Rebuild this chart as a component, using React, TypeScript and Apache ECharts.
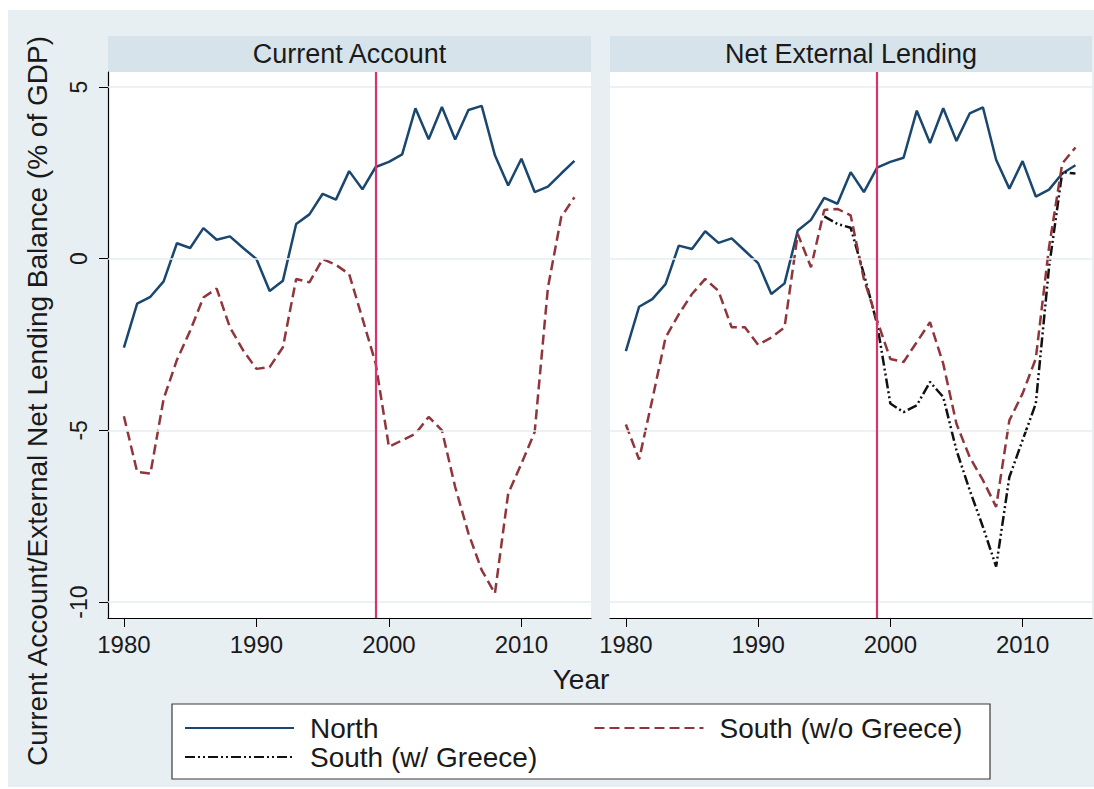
import React, { useEffect, useRef } from "react";
import * as echarts from "echarts";

const years = [
  1980, 1981, 1982, 1983, 1984, 1985, 1986, 1987, 1988, 1989,
  1990, 1991, 1992, 1993, 1994, 1995, 1996, 1997, 1998, 1999,
  2000, 2001, 2002, 2003, 2004, 2005, 2006, 2007, 2008, 2009,
  2010, 2011, 2012, 2013, 2014,
];

// Current Account panel
const caNorth = [
  -2.59, -1.31, -1.11, -0.66, 0.45, 0.31, 0.89, 0.55, 0.65, 0.31,
  -0.01, -0.94, -0.64, 1.01, 1.29, 1.89, 1.72, 2.55, 2.02, 2.67,
  2.82, 3.04, 4.38, 3.48, 4.42, 3.47, 4.33, 4.45, 3.01, 2.13,
  2.91, 1.94, 2.1, 2.48, 2.85,
];
const caSouth = [
  -4.59, -6.21, -6.26, -4.08, -2.95, -2.1, -1.13, -0.87, -2.0, -2.67,
  -3.21, -3.16, -2.58, -0.59, -0.69, -0.01, -0.18, -0.45, -1.74, -3.05,
  -5.48, -5.29, -5.1, -4.61, -5.0, -6.65, -8.0, -9.07, -9.75, -6.84,
  -5.97, -5.05, -0.84, 1.21, 1.79,
];

// Net External Lending panel
const nelNorth = [
  -2.69, -1.4, -1.18, -0.74, 0.38, 0.28, 0.8, 0.46, 0.59, 0.23,
  -0.13, -1.03, -0.72, 0.82, 1.13, 1.77, 1.6, 2.52, 1.94, 2.65,
  2.82, 2.94, 4.31, 3.37, 4.38, 3.43, 4.23, 4.41, 2.88, 2.04,
  2.84, 1.81, 2.01, 2.48, 2.72,
];
const nelSouth = [
  -4.83, -5.85, -4.1, -2.3, -1.62, -1.03, -0.59, -0.94, -2.0, -2.0,
  -2.51, -2.3, -2.0, 0.72, -0.25, 1.42, 1.45, 1.26, -0.6, -1.8,
  -2.92, -3.01, -2.43, -1.85, -3.06, -4.81, -5.78, -6.45, -7.23, -4.71,
  -3.93, -2.91, 0.33, 2.77, 3.24,
];
const nelSouthGreece = [
  null, null, null, null, null, null, null, null, null, null,
  null, null, null, null, null, 1.23, 1.01, 0.9, -0.45, -1.9,
  -4.22, -4.47, -4.27, -3.59, -4.03, -5.58, -6.74, -7.81, -8.97, -6.36,
  -5.29, -4.22, -0.25, 2.52, 2.48,
];

const panelTitles = ["Current Account", "Net External Lending"];
const xTickValues = [1980, 1990, 2000, 2010];
const yTickValues = [-10, -5, 0, 5];
const gridLineValues = [5, 0, -5, -10];
const euroYear = 1999;
const seriesNames = ["North", "South (w/o Greece)", "South (w/ Greece)"];
const yTitle = "Current Account/External Net Lending Balance (% of GDP)";
const xTitle = "Year";

const FONT = '"Liberation Sans", Arial, Helvetica, sans-serif';
const TXT = "#1a1a1a";
const BG = "#e8eff2";
const STRIP = "#d6e3ea";
const GRIDLINE = "#e6eef1";
const BLUE = "#1a476f";
const MAROON = "#90353b";
const PINK = "#d8336b";

const toPairs = (vals: (number | null)[]) =>
  years
    .map((y, i) => [y, vals[i]] as [number, number | null])
    .filter((p) => p[1] !== null);

const X_MIN = 1978.8;
const X_MAX = 2015.25;
const Y_MIN = -10.466;
const Y_MAX = 5.437;

const markLines = {
  silent: true,
  symbol: ["none", "none"],
  label: { show: false },
  emphasis: { disabled: true },
  lineStyle: { color: GRIDLINE, width: 1.5, type: "solid" },
  data: [
    ...gridLineValues.map((v) => ({ yAxis: v })),
    { xAxis: euroYear, lineStyle: { color: PINK, width: 2.2, type: "solid" } },
  ],
};

export default function App() {
  const ref = useRef<HTMLDivElement>(null);
  useEffect(() => {
    if (!ref.current) return;
    const chart = echarts.init(ref.current, undefined, { renderer: "svg" });

    const xAxisBase = (gridIndex: number) => ({
      type: "value",
      gridIndex,
      min: X_MIN,
      max: X_MAX,
      axisLine: { show: true, onZero: false, lineStyle: { color: "#000", width: 1.2 } },
      axisTick: {
        show: true,
        length: 9,
        customValues: xTickValues,
        lineStyle: { color: "#000", width: 1 },
      },
      axisLabel: {
        customValues: xTickValues,
        formatter: (v: number) => String(v),
        fontSize: 24,
        color: TXT,
        fontFamily: FONT,
        margin: 14,
      },
      splitLine: { show: false },
    });

    const legendBase = {
      orient: "horizontal",
      itemWidth: 109,
      itemHeight: 14,
      padding: 0,
      selectedMode: false,
      itemStyle: { opacity: 0 },
      textStyle: { fontSize: 28, color: TXT, fontFamily: FONT, padding: [0, 0, 0, 11] },
    };

    const option: any = {
      animation: false,
      backgroundColor: "#ffffff",
      textStyle: { fontFamily: FONT },
      grid: [
        { left: 108, top: 72, width: 483, height: 546, show: true, backgroundColor: "#ffffff", borderWidth: 0 },
        { left: 610, top: 72, width: 482, height: 546, show: true, backgroundColor: "#ffffff", borderWidth: 0 },
      ],
      xAxis: [xAxisBase(0), xAxisBase(1)],
      yAxis: [
        {
          type: "value",
          gridIndex: 0,
          min: Y_MIN,
          max: Y_MAX,
          axisLine: { show: true, onZero: false, lineStyle: { color: "#000", width: 1.2 } },
          axisTick: {
            show: true,
            length: 9,
            customValues: yTickValues,
            lineStyle: { color: "#000", width: 1 },
          },
          axisLabel: {
            customValues: yTickValues,
            formatter: (v: number) => String(v),
            rotate: 90,
            fontSize: 23,
            color: TXT,
            fontFamily: FONT,
            margin: 18,
          },
          splitLine: { show: false },
        },
        {
          type: "value",
          gridIndex: 1,
          min: Y_MIN,
          max: Y_MAX,
          show: false,
          splitLine: { show: false },
        },
      ],
      legend: [
        { ...legendBase, data: [seriesNames[0], seriesNames[1]], left: 184, top: 714, itemGap: 215 },
        { ...legendBase, data: [seriesNames[2]], left: 184, top: 743 },
      ],
      graphic: [
        { type: "rect", z: -100, silent: true, shape: { x: 8, y: 10, width: 1086, height: 777 }, style: { fill: BG } },
        { type: "rect", z: -90, silent: true, shape: { x: 108, y: 36, width: 483, height: 36 }, style: { fill: STRIP } },
        { type: "rect", z: -90, silent: true, shape: { x: 610, y: 36, width: 482, height: 36 }, style: { fill: STRIP } },
        {
          type: "text", silent: true, x: 349.5, y: 54,
          style: { text: panelTitles[0], fontSize: 27, fontFamily: FONT, fill: TXT, textAlign: "center", textVerticalAlign: "middle" },
        },
        {
          type: "text", silent: true, x: 851, y: 54,
          style: { text: panelTitles[1], fontSize: 27, fontFamily: FONT, fill: TXT, textAlign: "center", textVerticalAlign: "middle" },
        },
        {
          type: "text", silent: true, x: 37, y: 401, rotation: Math.PI / 2,
          style: { text: yTitle, fontSize: 28, fontFamily: FONT, fill: TXT, textAlign: "center", textVerticalAlign: "middle" },
        },
        {
          type: "text", silent: true, x: 581, y: 679,
          style: { text: xTitle, fontSize: 28, fontFamily: FONT, fill: TXT, textAlign: "center", textVerticalAlign: "middle" },
        },
        {
          type: "rect", z: 1, silent: true, shape: { x: 172, y: 704, width: 818, height: 75 },
          style: { fill: "#ffffff", stroke: "#3a3a3a", lineWidth: 1.2 },
        },
      ],
      series: [
        {
          type: "line", name: seriesNames[0], xAxisIndex: 0, yAxisIndex: 0, z: 3,
          data: toPairs(caNorth), symbol: "none", showSymbol: false,
          lineStyle: { color: BLUE, width: 2.5 }, itemStyle: { color: BLUE },
          emphasis: { disabled: true }, markLine: markLines,
        },
        {
          type: "line", name: seriesNames[1], xAxisIndex: 0, yAxisIndex: 0, z: 3,
          data: toPairs(caSouth), symbol: "none", showSymbol: false,
          lineStyle: { color: MAROON, width: 2.5, type: [10, 5] }, itemStyle: { color: MAROON },
          emphasis: { disabled: true },
        },
        {
          type: "line", name: seriesNames[0], xAxisIndex: 1, yAxisIndex: 1, z: 3,
          data: toPairs(nelNorth), symbol: "none", showSymbol: false,
          lineStyle: { color: BLUE, width: 2.5 }, itemStyle: { color: BLUE },
          emphasis: { disabled: true }, markLine: markLines,
        },
        {
          type: "line", name: seriesNames[2], xAxisIndex: 1, yAxisIndex: 1, z: 3,
          data: toPairs(nelSouthGreece), symbol: "none", showSymbol: false,
          lineStyle: { color: "#111111", width: 2.5, type: [10, 3, 2, 3, 2, 3] }, itemStyle: { color: "#111111" },
          emphasis: { disabled: true },
        },
        {
          type: "line", name: seriesNames[1], xAxisIndex: 1, yAxisIndex: 1, z: 3,
          data: toPairs(nelSouth), symbol: "none", showSymbol: false,
          lineStyle: { color: MAROON, width: 2.5, type: [10, 5] }, itemStyle: { color: MAROON },
          emphasis: { disabled: true },
        },
      ],
    };
    chart.setOption(option);
    return () => chart.dispose();
  }, []);

  return (
    <div
      ref={ref}
      style={{ position: "absolute", left: 0, top: 0, width: 1094, height: 789 }}
    />
  );
}
